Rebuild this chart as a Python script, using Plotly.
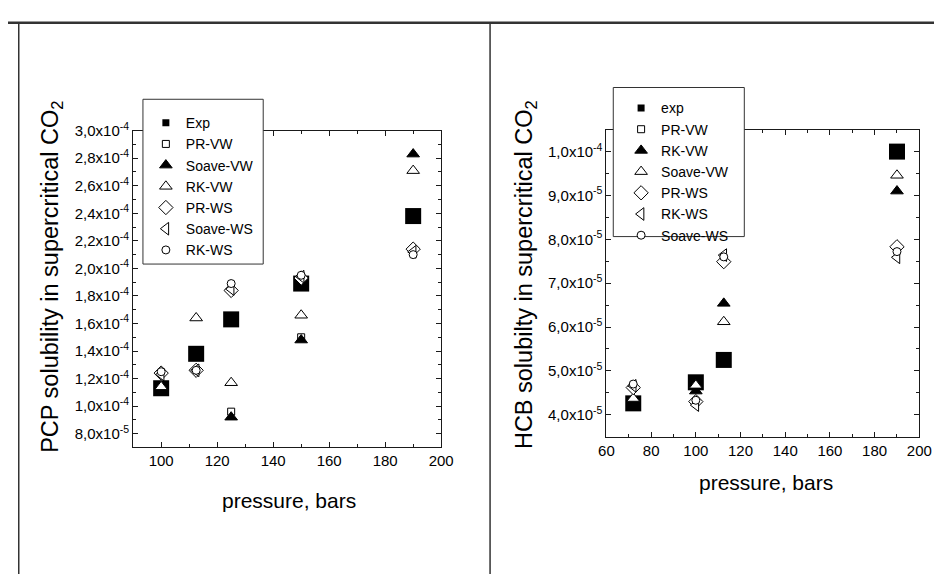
import plotly.graph_objects as go

W, H = 947, 574

# ---------------- data: PCP (left panel) ----------------
pcp_pressure = [100, 112.5, 125, 150, 190]
pcp_exp      = [1.13e-4, 1.38e-4, 1.63e-4, 1.89e-4, 2.38e-4]
pcp_pr_vw    = [1.13e-4, 1.38e-4, 0.96e-4, 1.50e-4, 2.38e-4]
pcp_soave_vw = [1.14e-4, 1.38e-4, 0.92e-4, 1.48e-4, 2.83e-4]
pcp_rk_vw    = [1.14e-4, 1.64e-4, 1.17e-4, 1.66e-4, 2.71e-4]
pcp_pr_ws    = [1.24e-4, 1.26e-4, 1.84e-4, 1.93e-4, 2.14e-4]
pcp_soave_ws = [1.23e-4, 1.26e-4, 1.85e-4, 1.94e-4, 2.12e-4]
pcp_rk_ws    = [1.25e-4, 1.26e-4, 1.89e-4, 1.95e-4, 2.10e-4]

# ---------------- data: HCB (right panel) ----------------
hcb_pressure = [72, 100, 112.5, 190]
hcb_exp      = [4.26e-5, 4.74e-5, 5.25e-5, 1.00e-4]
hcb_pr_vw    = [4.26e-5, 4.74e-5, 5.25e-5, 1.00e-4]
hcb_rk_vw    = [4.30e-5, 4.54e-5, 6.54e-5, 9.10e-5]
hcb_soave_vw = [4.37e-5, 4.67e-5, 6.12e-5, 9.46e-5]
hcb_pr_ws    = [4.62e-5, 4.30e-5, 7.49e-5, 7.83e-5]
hcb_rk_ws    = [4.66e-5, 4.22e-5, 7.64e-5, 7.59e-5]
hcb_soave_ws = [4.70e-5, 4.33e-5, 7.60e-5, 7.72e-5]

# ---------------- ticks ----------------
pcp_xtickvals = [100, 120, 140, 160, 180, 200]
pcp_ytickvals = [8e-5, 1.0e-4, 1.2e-4, 1.4e-4, 1.6e-4, 1.8e-4, 2.0e-4,
                 2.2e-4, 2.4e-4, 2.6e-4, 2.8e-4, 3.0e-4]
pcp_yticktext = ["8,0x10<sup>-5</sup>", "1,0x10<sup>-4</sup>", "1,2x10<sup>-4</sup>",
                 "1,4x10<sup>-4</sup>", "1,6x10<sup>-4</sup>", "1,8x10<sup>-4</sup>",
                 "2,0x10<sup>-4</sup>", "2,2x10<sup>-4</sup>", "2,4x10<sup>-4</sup>",
                 "2,6x10<sup>-4</sup>", "2,8x10<sup>-4</sup>", "3,0x10<sup>-4</sup>"]
hcb_xtickvals = [60, 80, 100, 120, 140, 160, 180, 200]
hcb_ytickvals = [4e-5, 5e-5, 6e-5, 7e-5, 8e-5, 9e-5, 1.0e-4]
hcb_yticktext = ["4,0x10<sup>-5</sup>", "5,0x10<sup>-5</sup>", "6,0x10<sup>-5</sup>",
                 "7,0x10<sup>-5</sup>", "8,0x10<sup>-5</sup>", "9,0x10<sup>-5</sup>",
                 "1,0x10<sup>-4</sup>"]

FONT = "Liberation Sans, Arial, sans-serif"
INK = "#1a1a1a"


def px(x):
    return x / W


def py(y):
    return 1 - y / H


def mk(kind, big=False):
    if kind == "sq":
        return dict(symbol="square", size=16 if big else 7, color="black", line=dict(width=0))
    if kind == "sqo":
        return dict(symbol="square", size=7, color="white", line=dict(color="black", width=1))
    if kind == "tri":
        return dict(symbol="triangle-up", size=11, color="black", line=dict(color="black", width=1))
    if kind == "trio":
        return dict(symbol="triangle-up", size=11, color="white", line=dict(color="black", width=1))
    if kind == "dia":
        return dict(symbol="diamond", size=11, color="white", line=dict(color="black", width=1))
    if kind == "left":
        return dict(symbol="triangle-left", size=11, color="white", line=dict(color="black", width=1))
    if kind == "circ":
        return dict(symbol="circle", size=8, color="white", line=dict(color="black", width=1))


fig = go.Figure()

# legend order
left_series = [
    ("Exp", pcp_exp, "sq"),
    ("PR-VW", pcp_pr_vw, "sqo"),
    ("Soave-VW", pcp_soave_vw, "tri"),
    ("RK-VW", pcp_rk_vw, "trio"),
    ("PR-WS", pcp_pr_ws, "dia"),
    ("Soave-WS", pcp_soave_ws, "left"),
    ("RK-WS", pcp_rk_ws, "circ"),
]
right_series = [
    ("exp", hcb_exp, "sq"),
    ("PR-VW", hcb_pr_vw, "sqo"),
    ("RK-VW", hcb_rk_vw, "tri"),
    ("Soave-VW", hcb_soave_vw, "trio"),
    ("PR-WS", hcb_pr_ws, "dia"),
    ("RK-WS", hcb_rk_ws, "left"),
    ("Soave-WS", hcb_soave_ws, "circ"),
]
# drawing order: PR-VW below the experimental squares
draw_order = [1, 0, 2, 3, 4, 5, 6]

for i in draw_order:
    name, vals, kind = left_series[i]
    fig.add_trace(go.Scatter(x=pcp_pressure, y=vals, mode="markers", name=name,
                             marker=mk(kind, big=True), showlegend=False,
                             xaxis="x", yaxis="y", cliponaxis=False))
for i in draw_order:
    name, vals, kind = right_series[i]
    fig.add_trace(go.Scatter(x=hcb_pressure, y=vals, mode="markers", name=name,
                             marker=mk(kind, big=True), showlegend=False,
                             xaxis="x2", yaxis="y2", cliponaxis=False))

# legend-only entries (small symbols like the reference)
for name, vals, kind in left_series:
    fig.add_trace(go.Scatter(x=[None], y=[None], mode="markers", name=name,
                             marker=mk(kind), legend="legend", xaxis="x", yaxis="y"))
for name, vals, kind in right_series:
    fig.add_trace(go.Scatter(x=[None], y=[None], mode="markers", name=name,
                             marker=mk(kind), legend="legend2", xaxis="x2", yaxis="y2"))

axis_common = dict(showline=True, linecolor=INK, linewidth=1, mirror="ticks",
                   ticks="inside", ticklen=5, tickcolor=INK, tickwidth=1,
                   showgrid=False, zeroline=False,
                   tickfont=dict(family=FONT, size=15, color="black"))

fig.update_layout(
    width=W, height=H,
    margin=dict(l=0, r=0, t=0, b=0),
    paper_bgcolor="white", plot_bgcolor="white",
    font=dict(family=FONT, color="black"),
    xaxis=dict(domain=[px(128), px(443)], range=[90, 200], anchor="y",
               tickmode="array", tickvals=pcp_xtickvals,
               minor=dict(ticks="inside", ticklen=3, tickmode="linear", tick0=0, dtick=10,
                          tickcolor=INK, showgrid=False),
               **axis_common),
    yaxis=dict(domain=[py(445), py(122)], range=[7e-5, 3e-4], anchor="x",
               tickmode="array", tickvals=pcp_ytickvals, ticktext=pcp_yticktext,
               minor=dict(ticks="inside", ticklen=3, tickmode="linear", tick0=0, dtick=1e-5,
                          tickcolor=INK, showgrid=False),
               **axis_common),
    xaxis2=dict(domain=[px(612), px(932)], range=[60, 200], anchor="y2",
                tickmode="array", tickvals=hcb_xtickvals,
                minor=dict(ticks="inside", ticklen=3, tickmode="linear", tick0=0, dtick=10,
                           tickcolor=INK, showgrid=False),
                **axis_common),
    yaxis2=dict(domain=[py(434), py(121)], range=[3.5e-5, 1.05e-4], anchor="x2",
                tickmode="array", tickvals=hcb_ytickvals, ticktext=hcb_yticktext,
                minor=dict(ticks="inside", ticklen=3, tickmode="linear", tick0=0, dtick=5e-6,
                           tickcolor=INK, showgrid=False),
                **axis_common),
    legend=dict(x=px(141), y=py(98), xanchor="left", yanchor="top",
                bgcolor="rgba(0,0,0,0)", borderwidth=0,
                font=dict(family=FONT, size=14, color="black"), itemwidth=30),
    legend2=dict(x=px(627), y=py(83), xanchor="left", yanchor="top",
                 bgcolor="rgba(0,0,0,0)", borderwidth=0,
                 font=dict(family=FONT, size=14, color="black"), itemwidth=30),
    showlegend=True,
)

shapes = [
    # legend boxes (opaque, cover axis lines)
    dict(type="rect", xref="paper", yref="paper", x0=px(138), x1=px(261), y0=py(258), y1=py(90),
         fillcolor="white", line=dict(color="#333", width=1), layer="above"),
    dict(type="rect", xref="paper", yref="paper", x0=px(619), x1=px(753), y0=py(230), y1=py(78),
         fillcolor="white", line=dict(color="#333", width=1), layer="above"),
    # outer frame
    dict(type="line", xref="paper", yref="paper", x0=0, x1=1, y0=py(12), y1=py(12),
         line=dict(color="#333", width=2.5)),
    dict(type="line", xref="paper", yref="paper", x0=px(11), x1=px(11), y0=0, y1=py(12),
         line=dict(color="#333", width=1.5)),
    dict(type="line", xref="paper", yref="paper", x0=px(493), x1=px(493), y0=0, y1=py(12),
         line=dict(color="#333", width=1.5)),
]
fig.update_layout(shapes=shapes)

annotations = [
    dict(text="PCP solubility in supercritical CO<sub>2</sub>", x=px(45), y=py(271),
         textangle=-90, size=23.5),
    dict(text="pressure, bars", x=px(287), y=py(499), textangle=0, size=21),
    dict(text="HCB solubilty in supercritical CO<sub>2</sub>", x=px(530), y=py(269),
         textangle=-90, size=23.5),
    dict(text="pressure, bars", x=px(775), y=py(481), textangle=0, size=21),
]
fig.update_layout(annotations=[
    dict(text=a["text"], x=a["x"], y=a["y"], xref="paper", yref="paper",
         xanchor="center", yanchor="middle", showarrow=False, textangle=a["textangle"],
         font=dict(family=FONT, size=a["size"], color="black"))
    for a in annotations
])

fig.write_html(
    "out.html",
    config={"displayModeBar": False},
    post_script="document.body.style.margin='0px';document.body.style.overflow='hidden';",
)
